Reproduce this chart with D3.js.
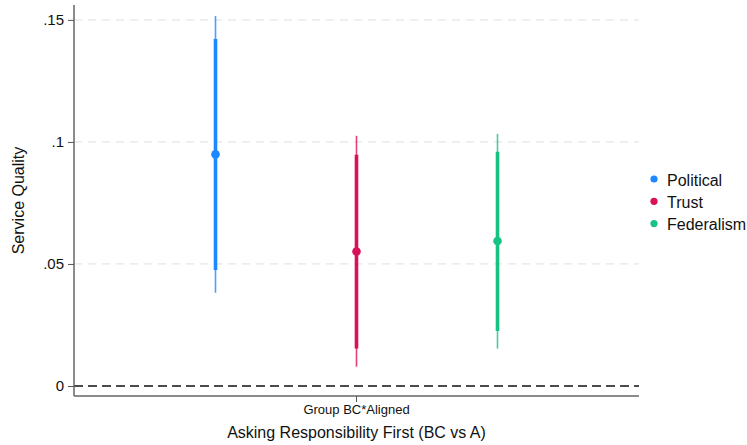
<!DOCTYPE html>
<html>
<head>
<meta charset="utf-8">
<script src="https://cdn.jsdelivr.net/npm/d3@7"></script>
<style>
 body{margin:0;background:#fff;}
 text{font-family:"Liberation Sans",Arial,Helvetica,sans-serif;}
</style>
</head>
<body>
<script>
// chart values
var series=["Political","Trust","Federalism"]
var colors=["#1e88ff","#d81159","#17c384"]
var estimate=[0.0949,0.0551,0.0594]
var ci95Lo=[0.0382,0.0079,0.0153]
var ci95Hi=[0.1516,0.1025,0.1033]
var ci90Lo=[0.0475,0.0154,0.0225]
var ci90Hi=[0.1422,0.0947,0.0960]
var yTicks=[0,0.05,0.1,0.15]
var yTickLabels=["0",".05",".1",".15"]
var category="Group BC*Aligned"

var W=747,H=445
// note: "top" is window.top, so use other names
var pLeft=74,pRight=639,pTop=5,pBottom=396

var svg=d3.select("body").append("svg")
  .attr("width",W)
  .attr("height",H)

var y=d3.scaleLinear().domain([-0.0041,0.1561]).range([pBottom,pTop])
var xCat=d3.scaleBand().domain([category]).range([pLeft,pRight])
var xSer=d3.scalePoint().domain(series).range([-141,141])

// grid lines
svg.append("g").selectAll("line")
  .data(yTicks.filter(function(d){return d>0}))
  .enter().append("line")
  .attr("x1",pLeft).attr("x2",pRight)
  .attr("y1",function(d){return y(d)}).attr("y2",function(d){return y(d)})
  .attr("stroke","#e6e6e6").attr("stroke-width",1.2)
  .attr("stroke-dasharray","8,6")

// zero reference line
svg.append("line")
  .attr("x1",pLeft).attr("x2",pRight)
  .attr("y1",y(0)).attr("y2",y(0))
  .attr("stroke","#111").attr("stroke-width",1.5)
  .attr("stroke-dasharray","9,5")

// axes
var yAxis=svg.append("g")
  .attr("transform","translate("+pLeft+",0)")
  .call(d3.axisLeft(y).tickValues(yTicks).tickSize(6).tickPadding(4)
    .tickFormat(function(d,i){return yTickLabels[i]}))
yAxis.select(".domain").attr("d","M0,"+pTop+"V"+pBottom)
var xAxis=svg.append("g")
  .attr("transform","translate(0,"+pBottom+")")
  .call(d3.axisBottom(xCat).tickSize(6).tickPadding(3))
xAxis.select(".domain").attr("d","M"+pLeft+",0H"+pRight)
svg.selectAll(".domain").attr("stroke","#666").attr("stroke-width",1.5)
svg.selectAll(".tick line").attr("stroke","#555").attr("stroke-width",1)
yAxis.selectAll("text").attr("font-size",15).attr("fill","#111")
xAxis.selectAll("text").attr("font-size",13).attr("fill","#111")

// intervals and points
var cx=function(i){return xCat(category)+xCat.bandwidth()/2+xSer(series[i])}
var g=svg.append("g").selectAll("g").data(series).enter().append("g")
g.append("line")
  .attr("x1",function(d,i){return cx(i)}).attr("x2",function(d,i){return cx(i)})
  .attr("y1",function(d,i){return y(ci95Lo[i])}).attr("y2",function(d,i){return y(ci95Hi[i])})
  .attr("stroke",function(d,i){return colors[i]}).attr("stroke-width",1.6)
  .attr("stroke-opacity",0.8)
g.append("line")
  .attr("x1",function(d,i){return cx(i)}).attr("x2",function(d,i){return cx(i)})
  .attr("y1",function(d,i){return y(ci90Lo[i])}).attr("y2",function(d,i){return y(ci90Hi[i])})
  .attr("stroke",function(d,i){return colors[i]}).attr("stroke-width",3.6)
g.append("circle")
  .attr("cx",function(d,i){return cx(i)})
  .attr("cy",function(d,i){return y(estimate[i])})
  .attr("r",4.3)
  .attr("fill",function(d,i){return colors[i]})

// titles
svg.append("text")
  .attr("transform","translate(24,"+((pTop+pBottom)/2)+") rotate(-90)")
  .attr("text-anchor","middle")
  .attr("font-size",16).attr("fill","#111")
  .text("Service Quality")
svg.append("text")
  .attr("x",(pLeft+pRight)/2).attr("y",438)
  .attr("text-anchor","middle")
  .attr("font-size",16).attr("fill","#111")
  .text("Asking Responsibility First (BC vs A)")

// legend
var leg=svg.append("g").selectAll("g").data(series).enter().append("g")
  .attr("transform",function(d,i){return "translate(654,"+(180+i*22.3)+")"})
leg.append("circle").attr("r",3.6).attr("cy",-1)
  .attr("fill",function(d,i){return colors[i]})
leg.append("text").attr("x",13).attr("y",5.5)
  .attr("font-size",16).attr("fill","#111")
  .text(function(d){return d})
</script>
</body>
</html>
